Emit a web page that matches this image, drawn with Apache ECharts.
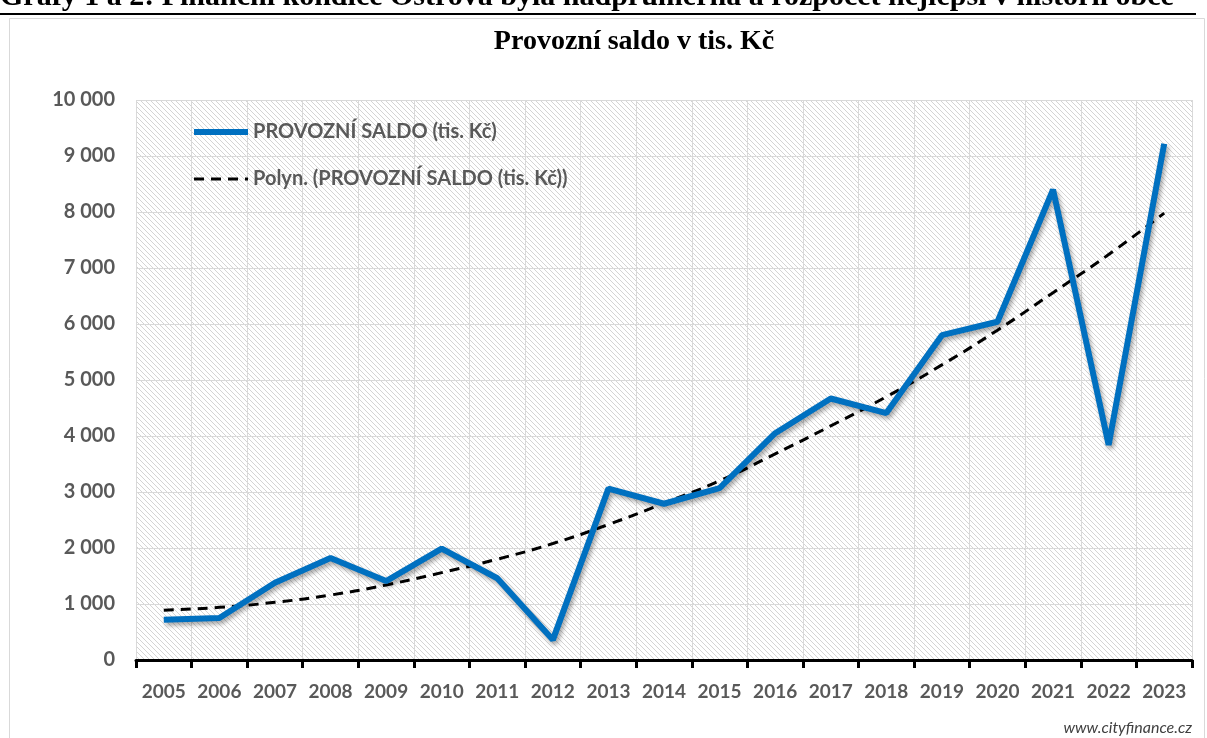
<!DOCTYPE html>
<html>
<head>
<meta charset="utf-8">
<script src="https://cdn.jsdelivr.net/npm/echarts@6/dist/echarts.min.js"></script>
<style>
  html, body { margin: 0; padding: 0; background: #fff; }
  #main { width: 1207px; height: 738px; }
</style>
</head>
<body>
<div id="main"></div>
<script>
// roky
const years = ["2005", "2006", "2007", "2008", "2009", "2010", "2011", "2012", "2013", "2014",
  "2015", "2016", "2017", "2018", "2019", "2020", "2021", "2022", "2023"];
// provozní saldo (tis. Kč)
const saldo = [720, 750, 1380, 1820, 1410, 1990, 1460, 360, 3060, 2790,
  3070, 4050, 4670, 4410, 5800, 6040, 8400, 3840, 9220];
// polynomický trend
const trend = [890, 940, 1030, 1160, 1340, 1560, 1800, 2080, 2420, 2800,
  3200, 3680, 4180, 4700, 5270, 5890, 6560, 7240, 7980];
const yTicks = { min: 0, max: 10000, step: 1000 };

const serieName = "PROVOZNÍ SALDO (tis. Kč)";
const trendName = "Polyn. (PROVOZNÍ SALDO (tis. Kč))";

// šrafované pozadí plochy grafu
function hatch() {
  const s = 5;
  const c = document.createElement("canvas");
  c.width = s; c.height = s;
  const ctx = c.getContext("2d");
  ctx.fillStyle = "#ffffff";
  ctx.fillRect(0, 0, s, s);
  const img = ctx.getImageData(0, 0, s, s);
  for (let y = 0; y < s; y++) {
    for (let x = 0; x < s; x++) {
      if ((x - y + s) % s === 0) {
        const i = (y * s + x) * 4;
        img.data[i] = 212; img.data[i + 1] = 212; img.data[i + 2] = 212;
      }
    }
  }
  ctx.putImageData(img, 0, 0);
  return c;
}

const labelColor = "#595959";
const fontLabel = "Lato";

let chart = echarts.init(document.getElementById("main"));

const option = {
  backgroundColor: "#ffffff",
  animation: false,
  title: {
    text: "Provozní saldo v tis. Kč",
    left: 629,
    textAlign: "center",
    top: 23,
    textStyle: {
      fontFamily: "Liberation Serif",
      fontWeight: "bold",
      fontSize: 28,
      color: "#000000"
    }
  },
  graphic: [
    {
      type: "text",
      style: {
        x: 0, y: 12,
        text: "Grafy 1 a 2: Finanční kondice Ostrova byla nadprůměrná a rozpočet nejlepší v historii obce",
        verticalAlign: "bottom",
        font: "bold 30px 'Liberation Serif'",
        fill: "#000"
      }
    },
    {
      type: "line",
      shape: { x1: 0, y1: 14, x2: 1196, y2: 14 },
      style: { stroke: "#000", lineWidth: 2 }
    },
    {
      type: "rect",
      shape: { x: 9.5, y: 18.5, width: 1195, height: 740 },
      style: { fill: null, stroke: "#d9d9d9", lineWidth: 1 }
    },
    {
      type: "text",
      right: 15,
      bottom: 2,
      style: {
        text: "www.cityfinance.cz",
        font: "italic 16px Lato",
        fill: "#404040"
      }
    }
  ],
  legend: {
    orient: "vertical",
    left: 186,
    top: 117,
    itemWidth: 54,
    itemHeight: 14,
    itemGap: 27,
    data: [
      { name: serieName, lineStyle: { width: 6 } },
      { name: trendName, lineStyle: { width: 3 } }
    ],
    itemStyle: { color: "rgba(0,0,0,0)", borderWidth: 0 },
    textStyle: {
      fontFamily: fontLabel,
      fontWeight: "bold",
      fontSize: 20,
      color: labelColor
    }
  },
  grid: {
    left: 136,
    right: 15,
    top: 100,
    bottom: 78,
    show: true,
    borderWidth: 0,
    backgroundColor: { image: hatch(), repeat: "repeat" }
  },
  xAxis: {
    type: "category",
    data: years,
    boundaryGap: true,
    axisLine: { lineStyle: { color: "#000", width: 3 } },
    axisTick: { show: true, interval: 0, length: 8, lineStyle: { color: "#000", width: 3 } },
    splitLine: { show: true, interval: 0, lineStyle: { color: "#d9d9d9", width: 1 } },
    axisLabel: {
      interval: 0,
      margin: 22,
      fontFamily: fontLabel,
      fontWeight: "bold",
      fontSize: 19,
      color: labelColor
    }
  },
  yAxis: {
    type: "value",
    min: yTicks.min,
    max: yTicks.max,
    interval: yTicks.step,
    axisLine: { show: false },
    axisTick: { show: false },
    splitLine: { lineStyle: { color: "#d9d9d9", width: 1 } },
    axisLabel: {
      margin: 21,
      fontFamily: fontLabel,
      fontWeight: "bold",
      fontSize: 20,
      color: labelColor,
      formatter: function (v) {
        return String(v).replace(/\B(?=(\d{3})+(?!\d))/g, " ");
      }
    }
  },
  series: [
    {
      name: trendName,
      type: "line",
      data: trend,
      symbol: "none",
      smooth: true,
      z: 2,
      lineStyle: { color: "#000", width: 3, type: [10, 7] },
      itemStyle: { color: "#000" }
    },
    {
      name: serieName,
      type: "line",
      data: saldo,
      symbol: "none",
      z: 3,
      lineStyle: {
        color: "#0070c0",
        width: 6,
        shadowColor: "rgba(0,0,0,0.35)",
        shadowBlur: 4,
        shadowOffsetX: 2,
        shadowOffsetY: 3
      },
      itemStyle: { color: "#0070c0" }
    }
  ]
};

chart.setOption(option);
</script>
</body>
</html>
